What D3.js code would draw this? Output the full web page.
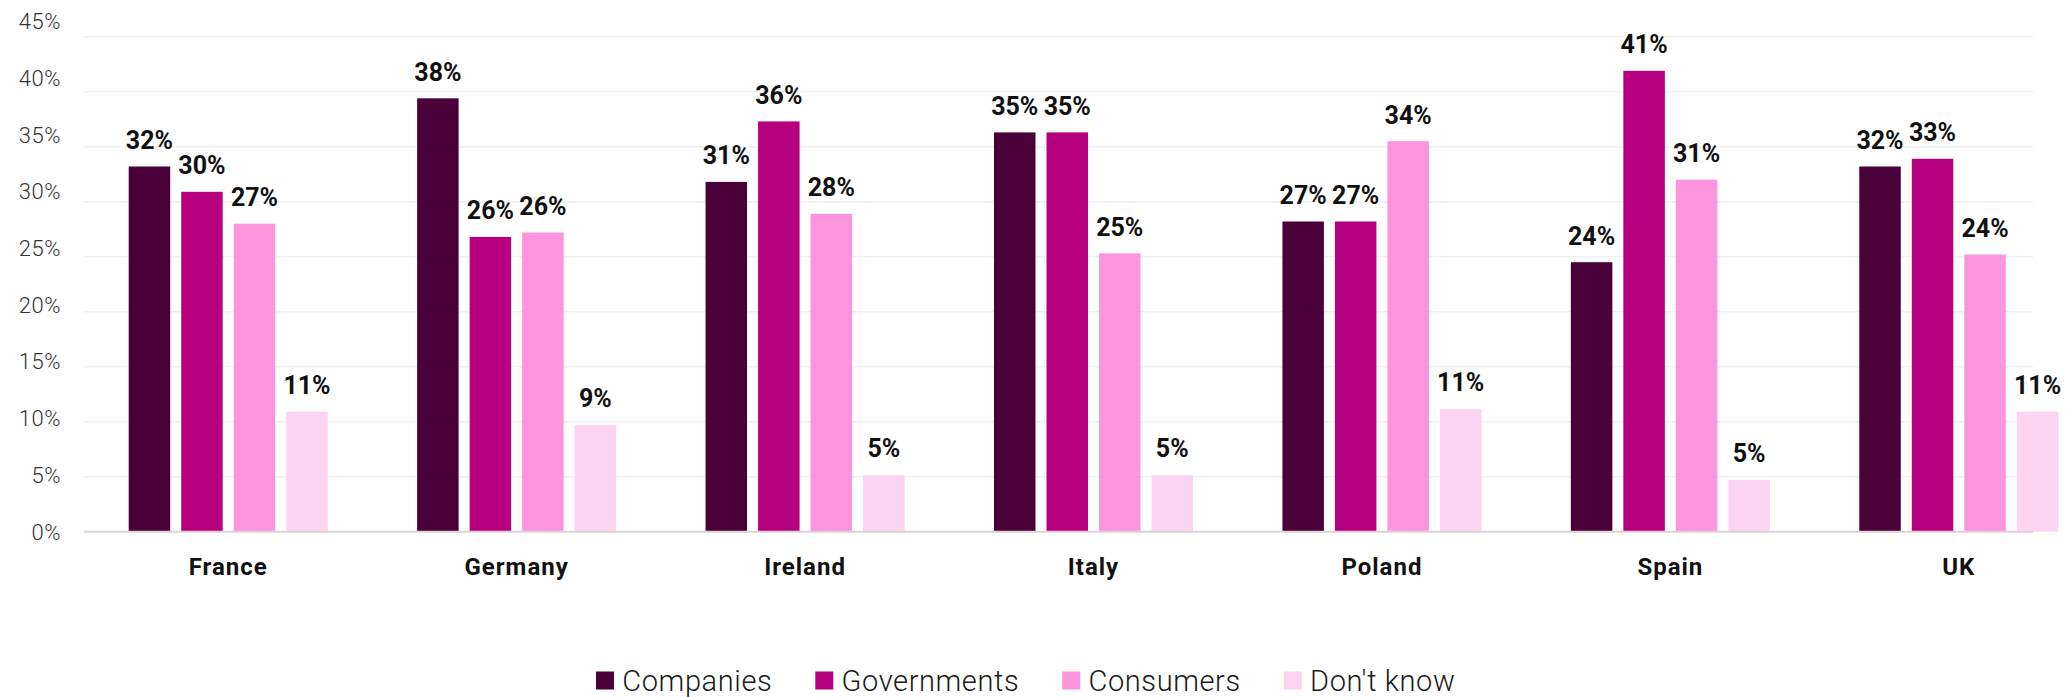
<!DOCTYPE html>
<html>
<head>
<meta charset="utf-8">
<script src="https://cdn.jsdelivr.net/npm/d3@7"></script>
<style>
  body { margin: 0; background: #fff; }
  svg { display: block; font-family: Roboto, sans-serif; }
</style>
</head>
<body>
<div id="chart"></div>
<script>

var countries = ['France', 'Germany', 'Ireland', 'Italy', 'Poland', 'Spain', 'UK'];
var seriesNames = ['Companies', 'Governments', 'Consumers', "Don't know"];
var seriesColors = ['#4a0039', '#b7007f', '#fd94de', '#fcd3f0'];

// bar heights
var companies   = [33.2, 39.4, 31.8, 36.3, 28.2, 24.5, 33.2];
var governments = [30.9, 26.8, 37.3, 36.3, 28.2, 41.9, 33.9];
var consumers   = [28.0, 27.2, 28.9, 25.3, 35.5, 32.0, 25.2];
var dontKnow    = [10.9, 9.7, 5.15, 5.15, 11.15, 4.7, 10.9];

// printed labels above the bars
var companiesLabels   = [32, 38, 31, 35, 27, 24, 32];
var governmentsLabels = [30, 26, 36, 35, 27, 41, 33];
var consumersLabels   = [27, 26, 28, 25, 34, 31, 24];
var dontKnowLabels    = [11, 9, 5, 5, 11, 5, 11];

var yTicks = [0, 5, 10, 15, 20, 25, 30, 35, 40, 45];

var values = [companies, governments, consumers, dontKnow];
var labels = [companiesLabels, governmentsLabels, consumersLabels, dontKnowLabels];

var data = countries.map(function(c, i){
  return {
    country: c,
    bars: seriesNames.map(function(s, j){
      return {series: s, value: values[j][i], label: labels[j][i]};
    })
  };
});

var width = 2069, height = 697;

var svg = d3.select('#chart')
  .append('svg')
  .attr('width', width)
  .attr('height', height);

var x0 = d3.scaleBand()
  .domain(countries)
  .range([84, 2103])
  .paddingInner(0.31)
  .paddingOuter(0.155);

var x1 = d3.scaleBand()
  .domain(seriesNames)
  .range([0, x0.bandwidth()])
  .paddingInner(0.21)
  .paddingOuter(0);

var y = d3.scaleLinear()
  .domain([0, 45])
  .range([531.7, 36.7]);

// tick labels sit on a slightly looser spacing than the gridlines
var yLabel = d3.scaleLinear()
  .domain([0, 45])
  .range([531.7, 21.3]);

var color = d3.scaleOrdinal()
  .domain(seriesNames)
  .range(seriesColors);

// gridlines
svg.append('g')
  .selectAll('line')
  .data(yTicks.slice(1))
  .enter()
    .append('line')
    .attr('x1', 84)
    .attr('x2', 2033)
    .attr('y1', function(d){return y(d);})
    .attr('y2', function(d){return y(d);})
    .attr('stroke', '#f1f1f1')
    .attr('stroke-width', 1.5);

// tick labels
svg.append('g')
  .selectAll('text')
  .data(yTicks)
  .enter()
    .append('text')
    .attr('x', 61)
    .attr('y', function(d){return yLabel(d);})
    .attr('dy', '0.36em')
    .attr('text-anchor', 'end')
    .attr('font-size', 22)
    .attr('font-weight', 300)
    .attr('letter-spacing', 0.5)
    .attr('fill', '#333')
    .text(function(d){return d + '%';});

var groups = svg.selectAll('g.country')
  .data(data)
  .enter()
    .append('g')
    .classed('country', true)
    .attr('transform', function(d){return 'translate(' + x0(d.country) + ',0)';});

groups.selectAll('rect')
  .data(function(d){return d.bars;})
  .enter()
    .append('rect')
    .attr('x', function(d){return x1(d.series);})
    .attr('y', function(d){return y(d.value);})
    .attr('width', x1.bandwidth())
    .attr('height', function(d){return y(0) - y(d.value);})
    .attr('fill', function(d){return color(d.series);});

groups.selectAll('text.value')
  .data(function(d){return d.bars;})
  .enter()
    .append('text')
    .classed('value', true)
    .attr('x', function(d){return x1(d.series) + x1.bandwidth() / 2;})
    .attr('y', function(d){return y(d.value) - 17.7;})
    .attr('text-anchor', 'middle')
    .attr('font-size', 25)
    .attr('font-weight', 700)
    .attr('fill', '#111')
    .text(function(d){return d.label + '%';});

// baseline
svg.append('line')
  .attr('x1', 84)
  .attr('x2', 2033)
  .attr('y1', y(0))
  .attr('y2', y(0))
  .attr('stroke', '#ddd3d3')
  .attr('stroke-width', 2);

// category labels
svg.append('g')
  .selectAll('text')
  .data(countries)
  .enter()
    .append('text')
    .attr('x', function(d){return x0(d) + x0.bandwidth() / 2;})
    .attr('y', 575)
    .attr('text-anchor', 'middle')
    .attr('font-size', 24)
    .attr('font-weight', 700)
    .attr('letter-spacing', 1)
    .attr('fill', '#111')
    .text(function(d){return d;});

// legend
var legend = svg.append('g')
  .attr('transform', 'translate(596,0)');

var legendX = 0;
seriesNames.forEach(function(s){
  var item = legend.append('g')
    .attr('transform', 'translate(' + legendX + ',0)');
  item.append('rect')
    .attr('x', 0)
    .attr('y', 671.5)
    .attr('width', 18)
    .attr('height', 18)
    .attr('fill', color(s));
  var t = item.append('text')
    .attr('x', 26.3)
    .attr('y', 690.5)
    .attr('font-size', 29)
    .attr('font-weight', 300)
    .attr('letter-spacing', 0.6)
    .attr('fill', '#1a1a1a')
    .text(s);
  legendX += 26.3 + t.node().getComputedTextLength() + 43;
});

</script>
</body>
</html>
